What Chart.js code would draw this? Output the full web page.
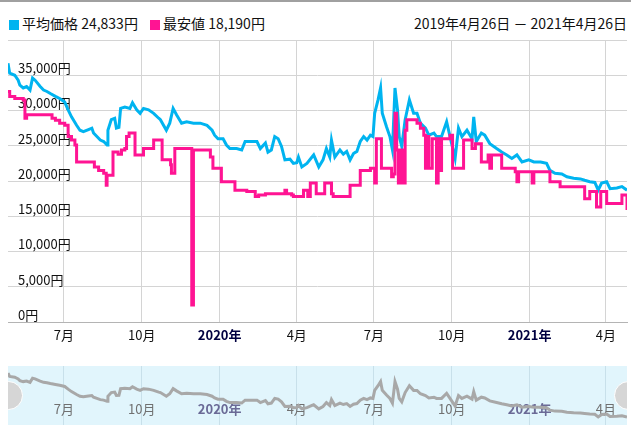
<!DOCTYPE HTML><html><head>
<meta charset="utf-8">
<style>
    html, body {
      margin: 0;
      padding: 0;
      background: #fff;
      font-family: "Noto Sans CJK JP", "DejaVu Sans", sans-serif;
    }
    #wrap {
      position: relative;
      width: 631px;
      height: 428px;
      border-top: 2px solid #a0a0a0;
      box-sizing: border-box;
      overflow: hidden;
    }
    .legend {
      position: absolute;
      top: 12px;
      font-size: 14px;
      color: #111;
      white-space: nowrap;
      line-height: 18px;
    }
    .sq {
      display: inline-block;
      width: 10px;
      height: 10px;
      margin-right: 3px;
      vertical-align: -1px;
    }
    #mainChart { position: absolute; left: 0; top: -2px; }
    #nav {
      position: absolute;
      left: 8px;
      top: 364px;
      width: 619px;
      height: 59px;
      background: #e1f5fc;
      overflow: hidden;
    }
    #navChart { position: absolute; left: 0; top: 0; }
    .handle {
      position: absolute;
      top: 15px;
      width: 27px;
      height: 27px;
      border-radius: 50%;
      background: #d6d6d6;
      border: 1px solid #fff;
    }
</style>
</head>
<body>
<div id="wrap">
  <div class="legend" style="left:9px;">
    <span class="sq" style="background:#00b4f0;"></span>平均価格 24,833円
    <span class="sq" style="background:#ff1493;margin-left:9px;"></span>最安値 18,190円
  </div>
  <div class="legend" style="right:4px;">2019年4月26日 － 2021年4月26日</div>
  <canvas id="mainChart" width="631" height="350"></canvas>
  <div id="nav">
    <canvas id="navChart" width="619" height="59"></canvas>
    <div class="handle" style="left:-14px;"></div>
    <div class="handle" style="left:606px;"></div>
  </div>
</div>

<script src="https://cdn.jsdelivr.net/npm/chart.js@4.4.0/dist/chart.umd.min.js"></script>
<script>
// days counted from 2019-04-26
var tickDays = [66, 158, 250, 341, 432, 524, 616, 706];
var tickLabels = ['7月', '10月', '2020年', '4月', '7月', '10月', '2021年', '4月'];

// 平均価格
var avgDays = [0, 2, 8, 12, 14, 18, 22, 26, 29, 32, 38, 42, 46, 50, 56, 61, 67, 71, 75, 81,
  85, 89, 95, 99, 101, 105, 109, 113, 117, 118, 122, 126, 128, 131, 133, 138, 144, 147, 152, 156,
  160, 166, 172, 178, 180, 187, 191, 195, 199, 205, 211, 219, 227, 235, 241, 244, 248, 254, 258, 262,
  270, 276, 280, 286, 294, 298, 304, 307, 311, 315, 319, 323, 327, 333, 337, 341, 343, 347, 353, 359,
  361, 367, 372, 376, 380, 382, 386, 392, 396, 400, 404, 408, 412, 416, 420, 424, 428, 431, 433, 437,
  440, 442, 447, 451, 454, 457, 460, 462, 465, 469, 474, 479, 483, 487, 493, 497, 503, 506, 512, 518,
  522, 528, 532, 536, 542, 548, 550, 553, 559, 563, 569, 577, 583, 589, 595, 601, 607, 615, 621, 629,
  636, 640, 646, 654, 660, 668, 676, 681, 687, 693, 697, 701, 707, 711, 719, 725, 731];
var avgPrices = [36700, 35300, 35000, 34300, 33600, 33200, 33400, 32900, 34600, 34300, 33400, 32900, 32700, 32400, 32000, 31700, 31200, 30100, 29100, 27900,
  27200, 27000, 27300, 27500, 26800, 26300, 25800, 25600, 25100, 27200, 28700, 28900, 27500, 27600, 30300, 30500, 30300, 31100, 30100, 29600,
  30300, 30100, 29600, 28900, 28700, 27200, 28200, 30300, 29400, 28200, 28400, 28200, 28200, 27900, 27200, 26500, 26000, 26000, 25100, 24600,
  24600, 24400, 25600, 25600, 25600, 24600, 25400, 24100, 24400, 26300, 26000, 24900, 23000, 23100, 22500, 22600, 23400, 22000, 22500, 23400,
  23700, 22000, 23000, 24600, 23400, 25800, 23400, 24400, 23800, 24200, 23000, 23900, 24200, 25600, 26300, 25800, 26500, 26300, 29600, 31500,
  33200, 29600, 27700, 26300, 24400, 33200, 30100, 26300, 24900, 28700, 31500, 29600, 29600, 28200, 27500, 26500, 26800, 26300, 26300, 28400,
  26300, 23200, 27500, 26300, 27200, 26000, 29100, 25600, 26800, 26500, 25300, 24600, 24100, 23700, 23200, 23700, 22700, 23000, 22700, 22700,
  22500, 21500, 21100, 21000, 20600, 20400, 20300, 20100, 19900, 19800, 18700, 19700, 19900, 18900, 19000, 19200, 18700];

// 最安値 (step)
var minDays = [0, 2, 8, 18, 20, 22, 52, 56, 61, 67, 71, 75, 79, 81, 102, 107, 113, 116, 117, 124,
  130, 134, 138, 140, 143, 150, 160, 172, 182, 192, 193, 197, 217, 219, 239, 242, 252, 268, 282, 292,
  296, 304, 327, 329, 335, 337, 349, 354, 357, 364, 374, 382, 384, 404, 416, 428, 433, 435, 441, 453,
  455, 457, 459, 461, 464, 466, 469, 471, 483, 487, 491, 493, 495, 497, 501, 506, 508, 510, 512, 522,
  525, 538, 548, 552, 559, 567, 569, 571, 583, 599, 601, 603, 619, 621, 640, 652, 681, 687, 695, 700,
  707, 725, 731];
var minPrices = [32700, 32000, 31700, 31500, 28900, 29400, 28900, 28600, 28200, 27900, 26300, 25800, 25100, 22700, 22000, 21500, 21100, 19400, 20800, 24100,
  23800, 24400, 24600, 26300, 26800, 23700, 24600, 25800, 23000, 22300, 21100, 24600, 2400, 24400, 23400, 21800, 19900, 18700, 18500, 17800,
  18000, 18200, 18700, 18200, 18000, 17800, 18700, 17800, 19700, 18200, 19700, 18200, 17800, 19400, 21500, 21800, 19700, 26000, 21800, 20600,
  21000, 29600, 24400, 19700, 24400, 19700, 27200, 28700, 28200, 27500, 26500, 21800, 26300, 21800, 26000, 19700, 26000, 21500, 26000, 26500,
  21800, 25800, 24600, 25300, 22700, 23700, 21800, 23700, 21800, 21300, 19900, 21300, 19700, 21300, 19900, 19200, 17500, 18500, 16300, 18500,
  16800, 18000, 15900];

function pts(days, vals) {
  return days.map(function (d, i) { return { x: d, y: vals[i] }; });
}

function isYear(c) {
  var lb = c.tick && tickLabels[tickDays.indexOf(c.tick.value)];
  return !!lb && lb.indexOf('年') > 0;
}

var font = '"Noto Sans CJK JP", "DejaVu Sans", sans-serif';

var mainChart = new Chart(document.getElementById('mainChart'), {
  type: 'line',
  data: {
    datasets: [{
      label: '最安値',
      data: pts(minDays, minPrices),
      borderColor: '#ff1493',
      borderWidth: 3,
      stepped: true,
      pointRadius: 0,
      order: 0
    }, {
      label: '平均価格',
      data: pts(avgDays, avgPrices),
      borderColor: '#00b4f0',
      borderWidth: 3,
      pointRadius: 0,
      tension: 0,
      order: 1
    }]
  },
  options: {
    responsive: false,
    devicePixelRatio: 1,
    animation: false,
    layout: { padding: { left: 8, right: 4, top: 40, bottom: 0 } },
    plugins: { legend: { display: false }, tooltip: { enabled: false } },
    scales: {
      x: {
        type: 'linear',
        min: 0,
        max: 731,
        afterFit: function (s) { s.height = 28; },
        afterBuildTicks: function (s) { s.ticks = tickDays.map(function (d) { return { value: d }; }); },
        grid: { color: '#d4d4d4', drawTicks: false },
        border: { display: true, color: '#b4b4b4' },
        ticks: {
          padding: 5,
          maxRotation: 0,
          autoSkip: false,
          callback: function (v) { return tickLabels[tickDays.indexOf(v)]; },
          font: function (c) {
            return { family: font, size: 13, weight: isYear(c) ? 'bold' : 'normal' };
          },
          color: function (c) { return isYear(c) ? '#000040' : '#111'; }
        }
      },
      y: {
        min: 0,
        max: 40000,
        afterFit: function (s) { s.width = 0; },
        grid: { color: '#d4d4d4', drawTicks: false },
        border: { display: false },
        ticks: {
          stepSize: 5000,
          mirror: true,
          padding: 10,
          labelOffset: -7,
          color: '#111',
          font: { family: font, size: 13 },
          callback: function (v) {
            if (v === 40000) return '';
            return v.toLocaleString('en-US') + '円';
          }
        }
      }
    }
  }
});

var navChart = new Chart(document.getElementById('navChart'), {
  type: 'line',
  data: {
    datasets: [{
      data: pts(avgDays, avgPrices),
      borderColor: '#a8a8a8',
      borderWidth: 3,
      pointRadius: 0,
      tension: 0
    }]
  },
  options: {
    responsive: false,
    devicePixelRatio: 1,
    animation: false,
    layout: { padding: 0 },
    plugins: { legend: { display: false }, tooltip: { enabled: false } },
    scales: {
      x: {
        type: 'linear',
        min: 0,
        max: 731,
        afterFit: function (s) { s.height = 0; },
        afterBuildTicks: function (s) { s.ticks = tickDays.map(function (d) { return { value: d }; }); },
        grid: { color: '#c8e0ea', drawTicks: false },
        border: { display: false },
        ticks: {
          mirror: true,
          padding: 8,
          maxRotation: 0,
          autoSkip: false,
          callback: function (v) { return tickLabels[tickDays.indexOf(v)]; },
          font: function (c) {
            return { family: font, size: 13, weight: isYear(c) ? 'bold' : 'normal' };
          },
          color: function (c) { return isYear(c) ? '#6a6a96' : '#707070'; }
        }
      },
      y: {
        display: false,
        min: 15400,
        max: 39600
      }
    }
  }
});
</script>
</body></html>
